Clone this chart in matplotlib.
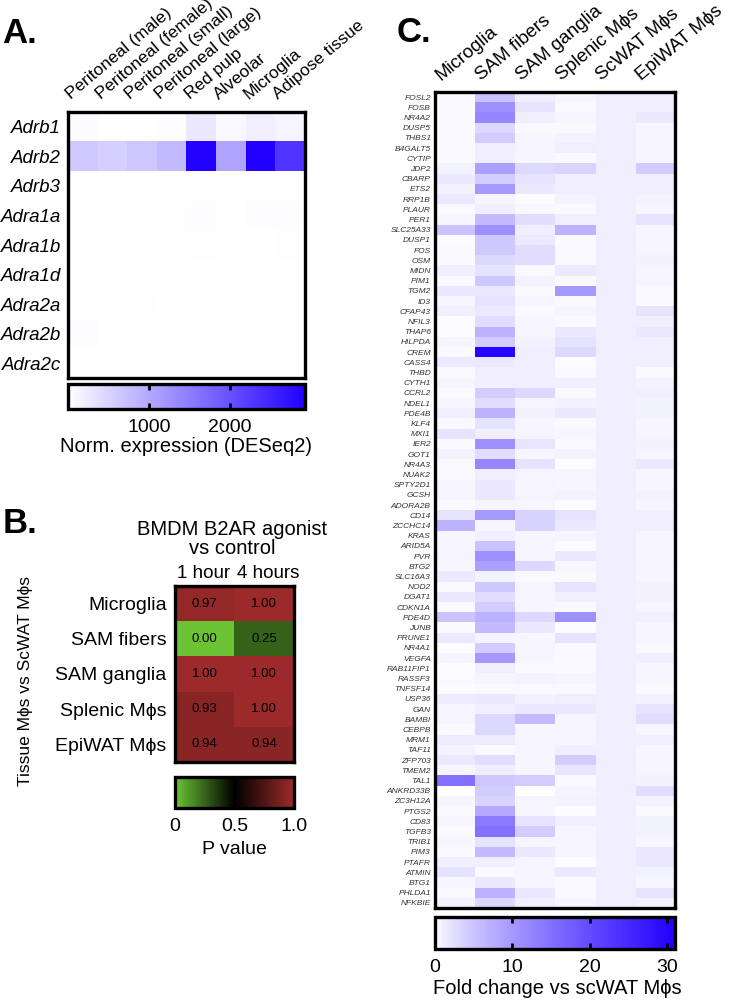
import matplotlib
matplotlib.use('Agg')
import matplotlib.pyplot as plt
import numpy as np
from matplotlib.colors import LinearSegmentedColormap

plt.rcParams['font.family'] = ['Liberation Sans', 'DejaVu Sans']

# ---- panel A data: normalised expression (DESeq2)
a_genes = ['Adrb1', 'Adrb2', 'Adrb3', 'Adra1a', 'Adra1b', 'Adra1d', 'Adra2a', 'Adra2b', 'Adra2c']
a_tissues = ['Peritoneal (male)', 'Peritoneal (female)', 'Peritoneal (small)', 'Peritoneal (large)',
             'Red pulp', 'Alveolar', 'Microglia', 'Adipose tissue']
a_expr = [
    [40, 20, 20, 30, 270, 90, 200, 130],
    [620, 550, 660, 800, 2900, 1060, 2920, 2320],
    [5, 5, 5, 5, 10, 5, 5, 5],
    [5, 5, 5, 20, 30, 10, 25, 30],
    [5, 5, 5, 20, 20, 5, 5, 20],
    [5, 5, 5, 20, 5, 5, 5, 5],
    [5, 5, 20, 5, 5, 20, 5, 5],
    [25, 5, 5, 5, 5, 5, 10, 5],
    [5, 5, 5, 5, 5, 10, 5, 5],
]

# ---- panel B data: p values
b_tissues = ['Microglia', 'SAM fibers', 'SAM ganglia', 'Splenic Mϕs', 'EpiWAT Mϕs']
b_times = ['1 hour', '4 hours']
b_pval = [
    [0.97, 1.00],
    [0.00, 0.25],
    [1.00, 1.00],
    [0.93, 1.00],
    [0.94, 0.94],
]

# ---- panel C data: fold change vs scWAT macrophages
c_tissues = ['Microglia', 'SAM fibers', 'SAM ganglia', 'Splenic Mϕs', 'ScWAT Mϕs', 'EpiWAT Mϕs']
c_genes = ['FOSL2', 'FOSB', 'NR4A2', 'DUSP5', 'THBS1', 'B4GALT5', 'CYTIP', 'JDP2', 'CBARP', 'ETS2',
           'RRP1B', 'PLAUR', 'PER1', 'SLC25A33', 'DUSP1', 'FOS', 'OSM', 'MIDN', 'PIM1', 'TGM2',
           'ID3', 'CFAP43', 'NFIL3', 'THAP6', 'HILPDA', 'CREM', 'CASS4', 'THBD', 'CYTH1', 'CCRL2',
           'NDEL1', 'PDE4B', 'KLF4', 'MXI1', 'IER2', 'GOT1', 'NR4A3', 'NUAK2', 'SPTY2D1', 'GCSH',
           'ADORA2B', 'CD14', 'ZCCHC14', 'KRAS', 'ARID5A', 'PVR', 'BTG2', 'SLC16A3', 'NOD2', 'DGAT1',
           'CDKN1A', 'PDE4D', 'JUNB', 'PRUNE1', 'NR4A1', 'VEGFA', 'RAB11FIP1', 'RASSF3', 'TNFSF14', 'USP36',
           'GAN', 'BAMBI', 'CEBPB', 'MRM1', 'TAF11', 'ZFP703', 'TMEM2', 'TAL1', 'ANKRD33B', 'ZC3H12A',
           'PTGS2', 'CD83', 'TGFB3', 'TRIB1', 'PIM3', 'PTAFR', 'ATMIN', 'BTG1', 'PHLDA1', 'NFKBIE']
fc_microglia = [0.3, 0.3, 0.3, 0.3, 0.3, 0.3, 0.3, 0.8, 1.5, 0.8,
                1.5, 0.3, 0.5, 5, 0.2, 0.3, 0.3, 1, 0.3, 1.5,
                0.5, 1, 0.2, 0.2, 0.7, 0.3, 1.5, 0.3, 0.7, 0.3,
                0.5, 1, 0.3, 2, 0.3, 0.8, 0.3, 0.3, 0.7, 0.7,
                0.3, 2, 7, 0.5, 0.5, 0.7, 0.5, 1.5, 0.3, 1.5,
                0.3, 5, 0.3, 1.5, 0.2, 0.7, 0.2, 0.3, 0.2, 1.3,
                0.7, 0.7, 0.3, 1.3, 0.8, 1.5, 0.5, 15, 0.1, 0.5,
                0.3, 0.7, 0.3, 0.5, 0.3, 1, 2, 0.5, 0.3, 0.8]
fc_sam_fibers = [5, 11, 12, 3, 4, 1, 1, 9, 4, 10,
                 0.5, 1, 6, 11, 4.5, 4.5, 3, 2, 4.5, 1.5,
                 2, 1.5, 2.5, 7, 4, 30, 1.5, 1, 1, 4,
                 2.5, 7, 2, 1, 11, 2.5, 12, 1, 1.5, 1.5,
                 0.7, 10, 0.5, 1, 5, 11, 9, 0.8, 4.5, 2.5,
                 4, 7, 6, 0.7, 4, 10, 1, 0.7, 0.3, 1.5,
                 1, 3, 3, 1.3, 0.3, 2.5, 1.2, 4.5, 4, 3.5,
                 8, 14, 15, 2, 6, 1, 0.3, 1.5, 7, 3]
fc_sam_ganglia = [1, 2, 1, 0.3, 0.5, 0.7, 0.5, 3, 2, 1.5,
                  0.2, 0.4, 2.5, 1, 1.5, 2.5, 2.5, 0.3, 0.8, 0.3,
                  0.5, 0.3, 0.5, 0.5, 0.8, 1, 1, 1, 1, 3,
                  0.7, 0.8, 0.5, 0.7, 1.8, 0.5, 2, 0.7, 0.7, 0.7,
                  0.5, 3.5, 3.5, 0.5, 0.7, 0.5, 3, 0.3, 0.7, 0.7,
                  0.5, 3, 1.5, 0.5, 0.5, 0.5, 0.3, 0.8, 0.3, 0.8,
                  1.5, 6, 0.5, 0.7, 0.5, 0.5, 0.5, 4, 0.1, 0.7,
                  0.5, 2, 4, 0.7, 1.5, 0.7, 0.7, 0.5, 1.5, 1]
fc_splenic = [0.5, 0.3, 0.5, 0.3, 0.8, 1.2, 0.3, 3.5, 1, 1,
              0.8, 0.3, 1, 7, 0.3, 0.3, 0.3, 1.5, 0.3, 10,
              0.3, 0.7, 0.3, 1.5, 2, 3, 0.2, 0.3, 1, 0.3,
              0.8, 1.5, 0.3, 0.5, 0.3, 0.8, 0.2, 0.7, 0.5, 0.8,
              0.2, 2, 1.5, 0.7, 0.2, 1.5, 0.5, 0.3, 2, 1,
              0.3, 11, 0.2, 2, 0.3, 0.3, 0.3, 0.7, 0.3, 1.2,
              1.5, 0.5, 0.5, 0.7, 1, 4, 1.8, 0.3, 0.7, 0.8,
              0.2, 1, 0.7, 0.5, 0.5, 0.2, 1.5, 0.3, 0.3, 0.5]
fc_scwat = [1, 1, 1, 1, 1, 1, 1, 1, 1, 1,
            1, 1, 1, 1, 1, 1, 1, 1, 1, 1,
            1, 1, 1, 1, 1, 1, 1, 1, 1, 1,
            1, 1, 1, 1, 1, 1, 1, 1, 1, 1,
            1, 1, 1, 1, 1, 1, 1, 1, 1, 1,
            1, 1, 1, 1, 1, 1, 1, 1, 1, 1,
            1, 1, 1, 1, 1, 1, 1, 1, 1, 1,
            1, 1, 1, 1, 1, 1, 1, 1, 1, 1]
fc_epiwat = [1, 1, 1.5, 0.5, 0.5, 0.5, 0.5, 4, 1, 1,
             0.8, 0.5, 2, 0.5, 0.5, 0.5, 0.8, 0.5, 0.5, 0.3,
             0.3, 2, 1, 1.5, 1, 1, 1, 0.3, 0.8, 1,
             0.8, 0.8, 0.5, 0.5, 0.8, 0.5, 1.5, 0.5, 0.5, 0.8,
             0.5, 1, 1, 0.5, 0.5, 0.5, 0.7, 0.5, 0.8, 0.8,
             0.5, 1, 0.5, 0.5, 0.3, 1, 0.5, 0.5, 0.3, 0.8,
             2, 2.5, 0.5, 1, 0.5, 0.5, 0.5, 0.8, 2.5, 0.8,
             0.3, 0.8, 0.8, 0.5, 1.5, 1.5, 0.8, 0.5, 2, 0.8]

W, H = 733, 1001
fig = plt.figure(figsize=(W / 100, H / 100), dpi=100)


def axes_px(x0, y0, x1, y1):
    # axes from pixel box (top-left origin)
    return fig.add_axes([x0 / W, 1 - y1 / H, (x1 - x0) / W, (y1 - y0) / H])


def frame(ax, lw=2.4):
    for s in ax.spines.values():
        s.set_linewidth(lw)
        s.set_color('black')


def cbar(im, box, ticks, labels=None):
    cax = axes_px(*box)
    cb = fig.colorbar(im, cax=cax, orientation='horizontal')
    cb.outline.set_linewidth(2.4)
    cb.set_ticks(ticks)
    if labels is not None:
        cb.set_ticklabels(labels)
    cax.tick_params(direction='in', top=True, bottom=True, length=4, width=2,
                    labelsize=14, pad=7)
    return cb


def col_labels(ax, labels, dx, dy, size):
    for j, t in enumerate(labels):
        ax.annotate(t, xy=(j, 1), xycoords=('data', 'axes fraction'), xytext=(dx, dy),
                    textcoords='offset points', rotation=40, rotation_mode='anchor',
                    ha='left', va='bottom', fontsize=size)


blue_cmap = LinearSegmentedColormap.from_list('wb', ['#ffffff', '#2200ff'])
blue_cmap_c = LinearSegmentedColormap.from_list('wb_c', ['#ffffff', '#2200ff'], gamma=0.8)
gkr_cmap = LinearSegmentedColormap.from_list('gkr', ['#6cc434', '#000000', '#9d2a2a'])

# ================= panel A
axA = axes_px(68, 112, 305, 378)
imA = axA.imshow(np.array(a_expr), cmap=blue_cmap, vmin=0, vmax=2930, aspect='auto',
                 interpolation='nearest')
axA.set_xticks([])
axA.set_yticks(range(len(a_genes)))
axA.set_yticklabels(a_genes, fontsize=13.5, fontstyle='italic')
axA.tick_params(axis='y', length=0, pad=5)
frame(axA)
col_labels(axA, a_tissues, -7, 7, 12.5)
cbar(imA, (68, 384, 305, 409), [1000, 2000])
fig.text(186 / W, 1 - 447 / H, 'Norm. expression (DESeq2)', fontsize=14.5, ha='center', va='center')
fig.text(2 / W, 1 - 43 / H, 'A.', fontsize=25, fontweight='bold', ha='left', va='baseline')

# ================= panel B
axB = axes_px(175, 586, 294, 762)
pv = np.array(b_pval)
imB = axB.imshow(pv, cmap=gkr_cmap, vmin=0, vmax=1, aspect='auto', interpolation='nearest')
for i in range(pv.shape[0]):
    for j in range(pv.shape[1]):
        axB.text(j, i, f'{pv[i, j]:.2f}', ha='center', va='center', fontsize=9.5, color='black')
axB.set_yticks(range(len(b_tissues)))
axB.set_yticklabels(b_tissues, fontsize=14)
axB.set_xticks([])
axB.tick_params(length=0, pad=6)
frame(axB)
for j, t in enumerate(b_times):
    axB.annotate(t, xy=(j, 1), xycoords=('data', 'axes fraction'), xytext=(4 * j - 1, 3),
                 textcoords='offset points', ha='center', va='bottom', fontsize=13.5)
cbar(imB, (175, 777, 294, 808), [0, 0.5, 1.0], ['0', '0.5', '1.0'])
fig.text(234 / W, 1 - 850 / H, 'P value', fontsize=14, ha='center', va='center')
fig.text(232 / W, 1 - 539 / H, 'BMDM B2AR agonist\nvs control', fontsize=14.5,
         ha='center', va='center', linespacing=1.0)
fig.text(26 / W, 1 - 681 / H, 'Tissue Mϕs vs ScWAT Mϕs', fontsize=12.5, rotation=90,
         ha='center', va='center')
fig.text(3 / W, 1 - 533 / H, 'B.', fontsize=25, fontweight='bold', ha='left', va='baseline')

# ================= panel C
fc = np.array([fc_microglia, fc_sam_fibers, fc_sam_ganglia, fc_splenic, fc_scwat, fc_epiwat]).T
axC = axes_px(435, 92, 675, 908)
imC = axC.imshow(fc, cmap=blue_cmap_c, vmin=0, vmax=31, aspect='auto', interpolation='nearest')
axC.set_xticks([])
axC.set_yticks(range(len(c_genes)))
axC.set_yticklabels(c_genes, fontsize=6, fontstyle='italic', color='#333333')
axC.tick_params(axis='y', length=0, pad=3)
frame(axC)
col_labels(axC, c_tissues, -8, 6, 13.5)
cbar(imC, (435, 917, 675, 949), [0, 10, 20, 30])
fig.text(557 / W, 1 - 988 / H, 'Fold change vs scWAT Mϕs', fontsize=14.5, ha='center', va='center')
fig.text(397 / W, 1 - 42 / H, 'C.', fontsize=25, fontweight='bold', ha='left', va='baseline')

fig.savefig('out.png', dpi=100)
